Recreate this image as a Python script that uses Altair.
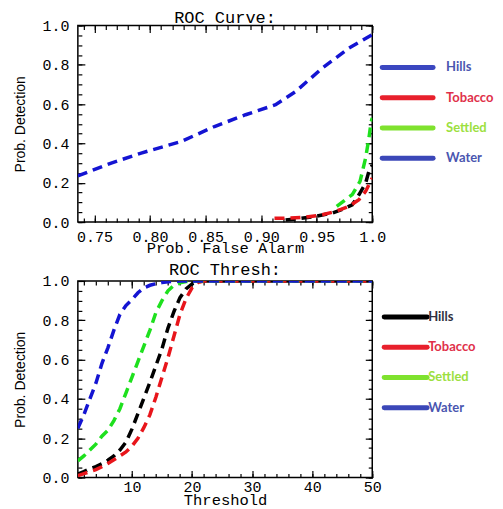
import altair as alt
import pandas as pd

series = ["Hills", "Tobacco", "Settled", "Water"]

# ---- ROC curve (top) ----
hills_far = [0.922, 0.935, 0.949, 0.964, 0.973, 0.982, 0.988, 0.994, 0.997, 1.0]
hills_pd = [0.01, 0.018, 0.029, 0.046, 0.065, 0.088, 0.139, 0.198, 0.258, 0.29]
tobacco_far = [0.912, 0.925, 0.94, 0.955, 0.967, 0.979, 0.988, 0.994, 0.997, 1.0]
tobacco_pd = [0.02, 0.02, 0.025, 0.037, 0.054, 0.08, 0.114, 0.156, 0.19, 0.224]
settled_far = [0.968, 0.982, 0.989, 0.994, 0.997, 0.999, 1.0]
settled_pd = [0.08, 0.14, 0.207, 0.325, 0.427, 0.51, 0.53]
water_far = [0.735, 0.765, 0.792, 0.828, 0.858, 0.886, 0.913, 0.931, 0.955, 0.979, 1.0]
water_pd = [0.235, 0.30, 0.351, 0.41, 0.486, 0.546, 0.597, 0.664, 0.783, 0.885, 0.953]

# ---- ROC threshold (bottom) ----
thresholds = list(range(1, 23)) + [50]
hills_thr = [0.017, 0.03, 0.045, 0.056, 0.07, 0.088, 0.11, 0.14, 0.18, 0.246, 0.325,
             0.405, 0.485, 0.57, 0.655, 0.76, 0.845, 0.915, 0.96, 0.985, 0.997, 1.0, 1.0]
tobacco_thr = [0.01, 0.02, 0.03, 0.04, 0.055, 0.072, 0.09, 0.11, 0.13, 0.16, 0.20,
               0.255, 0.32, 0.41, 0.51, 0.61, 0.72, 0.83, 0.91, 0.965, 0.993, 1.0, 1.0]
settled_thr = [0.085, 0.11, 0.14, 0.17, 0.21, 0.24, 0.29, 0.35, 0.43, 0.51, 0.59,
               0.67, 0.75, 0.84, 0.90, 0.95, 0.978, 0.99, 0.997, 1.0, 1.0, 1.0, 1.0]
water_thr = [0.25, 0.32, 0.40, 0.48, 0.58, 0.66, 0.75, 0.83, 0.875, 0.905, 0.94,
             0.965, 0.978, 0.986, 0.992, 0.996, 0.998, 1.0, 1.0, 1.0, 1.0, 1.0, 1.0]

# ---- styles ----
line_colors = ["#000000", "#e8151b", "#1ee01e", "#1414d2"]
top_legend_line = ["#3b47c0", "#e8202c", "#7fe22e", "#3b47b8"]
top_legend_text = ["#4a56b0", "#e0304a", "#9ce040", "#4a56b0"]
bot_legend_line = ["#000000", "#e8202c", "#7fe22e", "#3b47b8"]
bot_legend_text = ["#303040", "#e0304a", "#9ce040", "#4a56b0"]


def long_df(xs_list, ys_list):
    rows = []
    for name, xs, ys in zip(series, xs_list, ys_list):
        for i, (x, y) in enumerate(zip(xs, ys)):
            rows.append({"series": name, "x": x, "y": y, "idx": i})
    return pd.DataFrame(rows)


top_df = long_df([hills_far, tobacco_far, settled_far, water_far],
                 [hills_pd, tobacco_pd, settled_pd, water_pd])
bot_df = long_df([thresholds] * 4, [hills_thr, tobacco_thr, settled_thr, water_thr])

W, H = 295, 197
MONO = "Liberation Mono"
SANS = "Liberation Sans"


def axis(orient, values, major=True, labels=False, title=None, label_expr=None,
         label_pad=8, title_pad=0, title_font=MONO, title_size=15.5):
    size = 7 if major else 4
    kw = dict(orient=orient, values=values, domain=False, grid=False, ticks=True,
              tickSize=size, offset=-size, tickColor="black", tickWidth=1.2,
              labels=labels, title=title, labelFlush=False, labelOverlap=False)
    if labels:
        kw.update(labelPadding=label_pad, labelFont=MONO, labelFontSize=15,
                  labelColor="black")
        if label_expr:
            kw["labelExpr"] = label_expr
    if title:
        kw.update(titleFont=title_font, titleFontSize=title_size, titleFontWeight="normal",
                  titleColor="black", titlePadding=title_pad)
    return alt.Axis(**kw)


def panel(df, xdom, xmajor, xminor, xlabel_expr, xtitle, title,
          leg_line, leg_text, leg_x, leg_text_x, leg_range, xlabel_pad, xtitle_pad,
          title_offset):
    ymajor = [0, 0.2, 0.4, 0.6, 0.8, 1.0]
    yminor = [round(i * 0.05, 2) for i in range(21)]
    xs = alt.Scale(domain=xdom, nice=False, zero=False)
    ys = alt.Scale(domain=[0, 1], nice=False, zero=False)

    lines = alt.Chart(df).mark_line(strokeWidth=3.5, strokeDash=[10, 6], clip=True).encode(
        x=alt.X("x:Q", scale=xs,
                axis=axis("bottom", xmajor, labels=True, title=xtitle,
                          label_expr=xlabel_expr, label_pad=xlabel_pad,
                          title_pad=xtitle_pad)),
        y=alt.Y("y:Q", scale=ys,
                axis=axis("left", ymajor, labels=True, title="Prob. Detection",
                          label_expr="format(datum.value, '.1f')", label_pad=9,
                          title_pad=14, title_font=SANS, title_size=14)),
        color=alt.Color("series:N", scale=alt.Scale(domain=series, range=line_colors),
                        legend=None),
        order=alt.Order("idx:Q"),
        detail="series:N",
    )

    def ghost(xo, yo, xv, yv, major):
        return alt.Chart(df).mark_point(opacity=0).encode(
            x=alt.X("x:Q", scale=xs, axis=axis(xo, xv, major=major)),
            y=alt.Y("y:Q", scale=ys, axis=axis(yo, yv, major=major)),
        )

    g1 = ghost("top", "right", xmajor, ymajor, True)
    g2 = ghost("bottom", "left", xminor, yminor, False)
    g3 = ghost("top", "right", xminor, yminor, False)

    leg_df = pd.DataFrame({"name": series, "line_color": leg_line, "text_color": leg_text})
    ly = alt.Y("name:N", scale=alt.Scale(type="point", domain=series, range=leg_range,
                                         padding=0), axis=None)
    leg_rule = alt.Chart(leg_df).mark_rule(strokeWidth=5, strokeCap="round").encode(
        x=alt.value(leg_x[0]), x2=alt.value(leg_x[1]), y=ly,
        color=alt.Color("line_color:N", scale=None),
    )
    leg_txt = alt.Chart(leg_df).mark_text(align="left", baseline="middle", font="Lato",
                                          fontWeight="bold", fontSize=13).encode(
        x=alt.value(leg_text_x), y=ly, text="name:N",
        color=alt.Color("text_color:N", scale=None),
    )

    return alt.layer(lines, g1, g2, g3, leg_rule, leg_txt).resolve_scale(
        x="independent", y="independent", color="independent"
    ).resolve_axis(x="independent", y="independent").properties(
        width=W, height=H,
        title=alt.TitleParams(title, font=MONO, fontSize=17, fontWeight="normal",
                              anchor="middle", frame="group", offset=title_offset,
                              color="black"),
    )


top = panel(top_df, [0.735, 1.0], [0.75, 0.8, 0.85, 0.9, 0.95, 1.0],
            [round(0.74 + i * 0.01, 2) for i in range(27)],
            "datum.value == 1 ? '1.0' : format(datum.value, '.2f')",
            "Prob. False Alarm", "ROC Curve:",
            top_legend_line, top_legend_text, (305, 356), 369, [42, 133], 7, -4, -9)

bottom = panel(bot_df, [1, 50], [10, 20, 30, 40, 50],
               list(range(2, 51, 2)), None,
               "Threshold", "ROC Thresh:",
               bot_legend_line, bot_legend_text, (307, 350), 351, [36, 127], 2, -2, -5)

chart = alt.vconcat(top, bottom, spacing=3).configure_view(
    stroke="black", strokeWidth=1.5
).properties(padding={"left": 5, "top": 0, "right": 0, "bottom": 0}, background="white")

chart.save("out.html", embed_options={"renderer": "svg", "actions": False})
